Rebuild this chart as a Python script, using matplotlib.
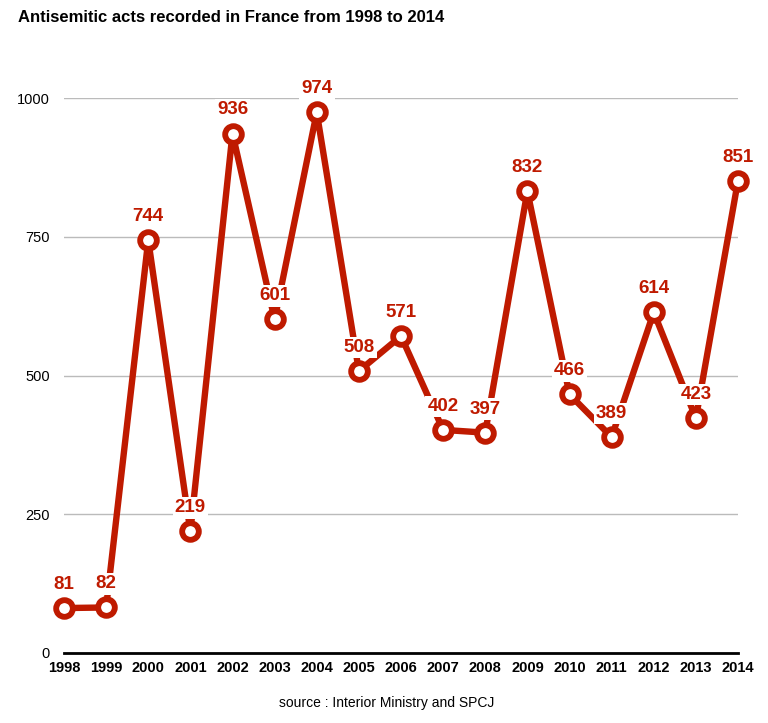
import matplotlib
matplotlib.use('Agg')
import matplotlib.pyplot as plt

# data
years = list(range(1998, 2015))
acts = [81, 82, 744, 219, 936, 601, 974, 508, 571, 402, 397, 832, 466, 389, 614, 423, 851]
yticks = [0, 250, 500, 750, 1000]

red = '#bf1a00'
plt.rcParams['font.family'] = ['Liberation Sans', 'DejaVu Sans']

fig = plt.figure(figsize=(7.68, 7.23), dpi=100)
ax = fig.add_axes([64/768, 70/723, (738-64)/768, (653-98)/723])

ax.plot(years, acts, color=red, lw=4.6, zorder=3, clip_on=False,
        marker='o', markersize=12, markeredgewidth=4.2,
        markerfacecolor='white', markeredgecolor=red)

for x, y in zip(years, acts):
    ax.annotate(str(y), (x, y), xytext=(0, 17), textcoords='offset points',
                ha='center', va='center', fontsize=13.5, fontweight='bold', color=red,
                bbox=dict(boxstyle='square,pad=0.12', fc='white', ec='none'),
                zorder=4, annotation_clip=False)

ax.set_xlim(1998, 2014)
ax.set_ylim(0, 1000)
ax.set_xticks(years)
ax.set_xticklabels([str(y) for y in years], fontweight='bold', fontsize=10.5)
ax.set_yticks(yticks)
ax.set_yticklabels([str(v) for v in yticks], fontsize=10.5)
ax.tick_params(axis='x', length=0, pad=6)
ax.tick_params(axis='y', length=0, pad=10)
ax.grid(axis='y', color='#bbbbbb', lw=1)
ax.set_axisbelow(True)
for s in ['top', 'right', 'left']:
    ax.spines[s].set_visible(False)
ax.spines['bottom'].set_color('black')
ax.spines['bottom'].set_linewidth(2)
ax.spines['bottom'].set_zorder(2)

fig.text(18/768, 1 - 18/723, 'Antisemitic acts recorded in France from 1998 to 2014',
         fontsize=12, fontweight='bold', ha='left', va='center')
fig.text(387/768, 1 - 703/723, 'source : Interior Ministry and SPCJ',
         fontsize=10, ha='center', va='center')

fig.savefig('out.png', dpi=100)
